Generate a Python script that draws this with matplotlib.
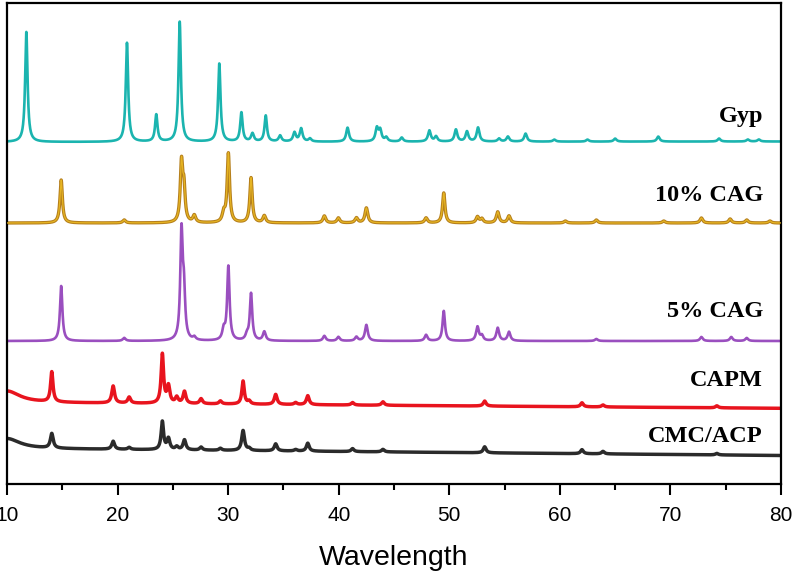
import numpy as np
import matplotlib
matplotlib.use("Agg")
import matplotlib.pyplot as plt

# ---------------- data ----------------
samples = ["Gyp", "10% CAG", "5% CAG", "CAPM", "CMC/ACP"]
colors = ["#1bb4af", "#d4a21e", "#9a4fbf", "#e8141e", "#2b2b2b"]

# baseline intensity (arb. units) at 2θ = 10 and at 2θ = 80
base_start = [342.0, 261.0, 143.0, 81.5, 35.5]
base_end = [342.5, 261.0, 143.0, 75.7, 28.5]

# peaks: positions (2θ), heights above baseline
gyp_pos = [11.75, 20.85, 23.5, 25.62, 29.2, 31.2, 32.2, 33.4, 34.7, 36.0, 36.6, 37.4,
           40.8, 43.45, 43.75, 44.3, 45.7, 48.2, 48.8, 50.6, 51.6, 52.6, 54.5, 55.3,
           56.9, 59.5, 62.5, 65.0, 68.9, 74.4, 77.0, 78.0]
gyp_h = [110, 99, 27, 120, 78, 29, 8, 26, 6, 9, 13, 3,
         14, 13, 11, 4, 4, 11, 5, 12, 10, 14, 3, 5,
         8, 2, 2, 3, 5, 3, 2, 2]

cag10_pos = [14.9, 20.6, 25.78, 26.0, 26.94, 29.6, 30.02, 32.07, 33.27, 38.7, 39.97,
             41.6, 42.5, 47.9, 49.5, 52.55, 52.95, 54.38, 55.4, 60.5, 63.3, 69.4,
             72.8, 75.4, 76.9, 79.0]
cag10_h = [43, 3, 58, 32, 7, 9, 69, 45, 7, 7, 5,
           5, 15, 5, 30, 6, 4, 11, 7, 2, 3, 2,
           5, 4, 3, 2]

cag5_pos = [14.9, 20.6, 25.78, 26.0, 26.94, 29.6, 30.02, 31.7, 32.07, 33.27, 38.7,
            39.97, 41.6, 42.5, 47.9, 49.5, 52.55, 52.95, 54.38, 55.4, 63.3, 72.8,
            75.5, 76.9]
cag5_h = [55, 3, 106, 44, 3, 10, 74, 5, 47, 9, 5,
          4, 4, 16, 6, 30, 14, 5, 13, 9, 2, 4,
          4, 3]

capm_pos = [10.0, 14.05, 19.6, 21.05, 24.05, 24.6, 25.35, 26.05, 27.55, 29.3, 31.35,
            31.9, 34.3, 36.1, 37.2, 41.25, 44.0, 53.2, 62.0, 63.9, 74.2]
capm_h = [11.5, 30, 17, 6, 49, 17, 6, 12, 5, 3, 23,
          3, 10, 2, 9, 2.5, 3.5, 5, 4, 2, 2]

cmc_pos = [10.0, 14.05, 19.6, 21.05, 24.05, 24.6, 25.35, 26.05, 27.55, 29.3, 31.35,
           31.9, 34.3, 36.1, 37.2, 41.25, 44.0, 53.2, 62.0, 63.9, 74.2]
cmc_h = [10, 14.5, 8, 2, 28, 11, 3, 10, 3, 2, 20,
         2, 7, 1.5, 8, 3, 2.5, 6, 4, 2.5, 1.5]

peak_pos = [gyp_pos, cag10_pos, cag5_pos, capm_pos, cmc_pos]
peak_h = [gyp_h, cag10_h, cag5_h, capm_h, cmc_h]

# label baselines (same units as intensity)
label_y = [362, 283, 167, 98, 42]

x_ticks = [10, 20, 30, 40, 50, 60, 70, 80]

# ---------------- drawing ----------------
plt.rcParams["font.family"] = ["Liberation Sans", "DejaVu Sans"]

fig = plt.figure(figsize=(8, 5.79), dpi=100)
ax = fig.add_axes([7 / 800, 1 - 484 / 579, 774 / 800, 481 / 579])

tt = np.linspace(10, 80, 7001)


def profile(pos, h, b0, b1):
    y = b0 + (b1 - b0) * (tt - 10) / 70.0
    for p, a in zip(pos, h):
        w = 2.8 if p <= 10.0 else (0.26 if a > 20 else 0.3)
        g = w / 2.0
        y = y + a * g * g / ((tt - p) ** 2 + g * g)
    return y


for i, name in enumerate(samples):
    y = profile(peak_pos[i], peak_h[i], base_start[i], base_end[i])
    if name == "10% CAG":
        ax.plot(tt, y, color="#b57f1c", lw=2.4, solid_joinstyle="round", zorder=2)
        ax.plot(tt, y, color="#e6b422", lw=0.9, zorder=3)
    elif name in ("CAPM", "CMC/ACP"):
        ax.plot(tt, y, color=colors[i], lw=2.5, zorder=2)
    else:
        ax.plot(tt, y, color=colors[i], lw=1.9, zorder=2)
    ax.text(78.37, label_y[i], name, ha="right", va="baseline",
            fontsize=17.5, fontweight="bold", family=["Liberation Serif", "DejaVu Serif"])

ax.set_xlim(10, 80)
ax.set_ylim(0, 481)
ax.set_xticks(x_ticks)
ax.set_xticks([15, 25, 35, 45, 55, 65, 75], minor=True)
ax.set_yticks([])
ax.tick_params(axis="x", which="major", direction="out", length=8, width=1.5,
               labelsize=15, pad=8)
ax.tick_params(axis="x", which="minor", direction="out", length=4, width=1.5)
for s in ax.spines.values():
    s.set_linewidth(1.6)
ax.set_xlabel("Wavelength", fontsize=20.5, labelpad=14)

fig.savefig("out.png", dpi=100)
